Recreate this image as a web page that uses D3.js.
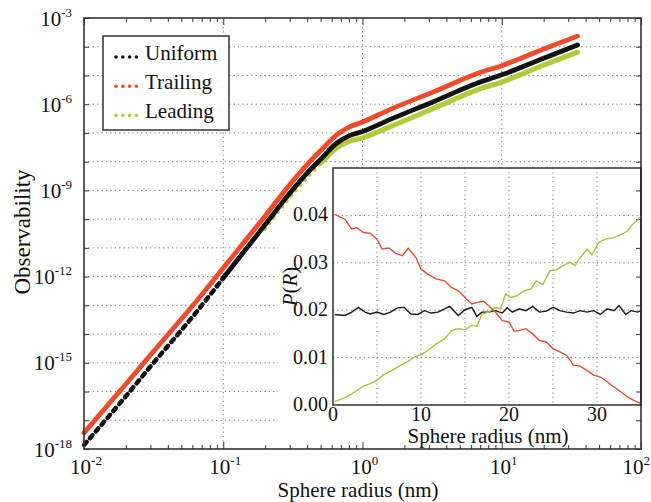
<!DOCTYPE html>
<html><head><meta charset="utf-8">
<script src="https://cdn.jsdelivr.net/npm/d3@7"></script>
<style>body{margin:0;background:#fff}svg{display:block}</style>
</head><body><svg id="c" width="651" height="502"></svg>
<script>
// ---------- main chart data (Sphere radius nm, Observability) ----------
const radiusTrailing = [0.01,0.02,0.03,0.065,0.1,0.2,0.3,0.4,0.5,0.65,0.8,1,1.6,3.2,7,10,20,35];
const obsTrailing   = [3.63e-18,1.82e-16,1.86e-15,1.51e-13,2.00e-12,1.29e-10,1.58e-9,7.94e-9,2.40e-8,8.32e-8,1.58e-7,2.40e-7,6.76e-7,2.63e-6,1.26e-5,2.19e-5,8.32e-5,2.34e-4];
const radiusUniform = [0.01,0.02,0.03,0.065,0.1,0.2,0.3,0.4,0.5,0.65,0.8,1,1.6,3.2,7,10,20,35];
const obsUniform    = [1.38e-18,6.92e-17,7.41e-16,6.31e-14,8.91e-13,6.46e-11,7.94e-10,3.98e-9,1.20e-8,4.37e-8,7.94e-8,1.12e-7,3.02e-7,1.20e-6,5.89e-6,1.05e-5,3.98e-5,1.15e-4];
const radiusLeading = [0.2,0.3,0.4,0.5,0.65,0.8,1,1.6,3.2,7,10,20,35];
const obsLeading    = [4.57e-11,5.62e-10,2.82e-9,8.51e-9,2.95e-8,5.01e-8,6.76e-8,1.70e-7,6.92e-7,3.39e-6,5.89e-6,2.29e-5,6.46e-5];
const xTickExps = [-2,-1,0,1,2];
const yTickExps = [-18,-15,-12,-9,-6,-3];
const legendLabels = ["Uniform","Trailing","Leading"];

// ---------- inset data (Sphere radius nm, P(R)) ----------
const insetRTrailing = [0.19,1.35,2.12,2.69,3.46,4.23,5.0,5.58,6.35,7.12,7.88,8.54,9.42,10.0,10.77,11.73,12.69,13.46,14.23,15.0,15.77,16.54,17.12,17.88,18.46,19.23,20.0,20.58,21.15,21.92,22.69,23.46,24.23,25.0,25.77,26.54,27.31,28.08,28.85,29.62,30.38,31.15,31.92,32.69,33.46,34.23,35.0];
const insetPTrailing = [0.0402,0.0392,0.0371,0.0374,0.0364,0.0362,0.0350,0.0329,0.0331,0.0320,0.0315,0.0331,0.0311,0.0287,0.0276,0.0266,0.0262,0.0248,0.0241,0.0227,0.0213,0.0217,0.0219,0.0206,0.0196,0.0178,0.0175,0.0156,0.0157,0.0161,0.0150,0.0136,0.0133,0.0119,0.0112,0.0105,0.0084,0.0082,0.0073,0.0063,0.0059,0.0049,0.0038,0.0028,0.0017,0.0009,0.0003];
const insetRLeading = [0.19,1.54,2.5,3.46,4.23,5.0,5.77,6.73,7.69,8.46,9.23,10.0,10.77,11.73,12.69,13.46,14.23,15.0,15.77,16.35,16.92,17.69,18.46,19.04,19.62,20.19,20.96,21.73,22.5,23.08,23.85,24.62,25.38,26.15,26.92,27.5,28.27,28.85,29.42,30.19,30.96,31.92,32.69,33.46,34.04,35.0];
const insetPLeading = [0.0007,0.0017,0.0028,0.0040,0.0045,0.0052,0.0064,0.0073,0.0084,0.0091,0.0101,0.0106,0.0115,0.0129,0.0140,0.0157,0.0161,0.0159,0.0168,0.0166,0.0192,0.0196,0.0206,0.0203,0.0234,0.0227,0.0231,0.0241,0.0245,0.0262,0.0254,0.0283,0.0285,0.0294,0.0301,0.0294,0.0315,0.0329,0.0317,0.0343,0.0350,0.0353,0.0359,0.0367,0.0381,0.0397];
const insetRUniform = [0.19,1.35,2.12,2.88,3.65,4.23,5.0,5.77,6.54,7.31,8.08,8.85,9.62,10.38,11.15,11.92,12.69,13.27,14.23,15.0,15.77,16.35,16.92,17.69,18.46,19.23,19.81,20.38,21.15,21.92,22.69,23.46,24.23,25.0,25.77,26.54,27.31,28.08,28.85,29.62,30.38,31.15,31.92,32.5,33.27,33.85,34.62,35.0];
const insetPUniform = [0.0191,0.0189,0.0196,0.0206,0.0196,0.0192,0.0196,0.0191,0.0196,0.0205,0.0206,0.0192,0.0191,0.0199,0.0194,0.0196,0.0203,0.0208,0.0189,0.0201,0.0206,0.0187,0.0196,0.0196,0.0199,0.0194,0.0205,0.0196,0.0203,0.0199,0.0208,0.0196,0.0198,0.0206,0.0199,0.0196,0.0194,0.0199,0.0196,0.0199,0.0191,0.0203,0.0199,0.0210,0.0191,0.0199,0.0196,0.0199];
const insetXTicks = [0,10,20,30];
const insetYTicks = [0,0.01,0.02,0.03,0.04];

const colors = {Uniform:"#111111", Trailing:"#f04a2a", Leading:"#b3cb38"};
const insetColors = {Uniform:"#1a1a1a", Trailing:"#ea4a30", Leading:"#a8c43c"};
const FONT = '"Liberation Serif"';

const svg = d3.select("#c");
const X0=84, X1=641, Y0=18, Y1=449;
const x = d3.scaleLog().domain([1e-2,1e2]).range([X0,X1]);
const y = d3.scaleLog().domain([1e-18,1e-3]).range([Y1,Y0]);
const txt = (g)=>g.append("text").style("font-family",FONT).attr("fill","#111");

// grid
const gridG = svg.append("g");
d3.range(-17,-3).forEach(e=>{
  gridG.append("line").attr("x1",X0).attr("x2",X1).attr("y1",y(Math.pow(10,e))).attr("y2",y(Math.pow(10,e)))
    .attr("stroke","#777").attr("stroke-width",1).attr("stroke-dasharray","1.2,3.2");
});
[-1,0,1].forEach(e=>{
  gridG.append("line").attr("y1",Y0).attr("y2",Y1).attr("x1",x(Math.pow(10,e))).attr("x2",x(Math.pow(10,e)))
    .attr("stroke","#777").attr("stroke-width",1).attr("stroke-dasharray","1.2,3.2");
});

// inset background (covers the grid, drawn below the main curves)
const IX0=333, IX1=641, IY0=168, IY1=405;
svg.append("rect").attr("x",278).attr("y",165).attr("width",IX1-278).attr("height",282).attr("fill","#fff");

// curves
const line = d3.line().x(d=>x(d[0])).y(d=>y(d[1])).curve(d3.curveMonotoneX);
const zip = (a,b)=>a.map((v,i)=>[v,b[i]]);
const leadPts = zip(radiusLeading,obsLeading);
const unifPts = zip(radiusUniform,obsUniform);
const trailPts = zip(radiusTrailing,obsTrailing);
const curveG = svg.append("g");
curveG.append("path").attr("d",line(leadPts.filter(d=>d[0]<=0.65))).attr("fill","none")
  .attr("stroke",colors.Leading).attr("stroke-width",4).attr("stroke-linecap","round").attr("stroke-dasharray","0,7");
curveG.append("path").attr("d",line(leadPts.filter(d=>d[0]>=0.5))).attr("fill","none")
  .attr("stroke",colors.Leading).attr("stroke-width",5).attr("stroke-linecap","round");
curveG.append("path").attr("d",line(unifPts.filter(d=>d[0]<=0.1))).attr("fill","none")
  .attr("stroke",colors.Uniform).attr("stroke-width",4.5).attr("stroke-linecap","round").attr("stroke-dasharray","4,5");
curveG.append("path").attr("d",line(unifPts.filter(d=>d[0]>=0.1))).attr("fill","none")
  .attr("stroke",colors.Uniform).attr("stroke-width",4.8).attr("stroke-linecap","round");
curveG.append("path").attr("d",line(trailPts)).attr("fill","none")
  .attr("stroke",colors.Trailing).attr("stroke-width",4.8).attr("stroke-linecap","round");

// axes frame + ticks
const axG = svg.append("g");
const minorX = [];
for(let e=-2;e<2;e++) for(let k=2;k<=9;k++) minorX.push(k*Math.pow(10,e));
const majX = xTickExps.map(e=>Math.pow(10,e));
axG.append("g").attr("transform",`translate(0,${Y1})`).call(d3.axisBottom(x).tickValues(majX).tickSize(-7).tickFormat(""));
axG.append("g").attr("transform",`translate(0,${Y1})`).call(d3.axisBottom(x).tickValues(minorX).tickSize(-4).tickFormat(""));
axG.append("g").attr("transform",`translate(0,${Y0})`).call(d3.axisTop(x).tickValues(majX).tickSize(-7).tickFormat(""));
axG.append("g").attr("transform",`translate(0,${Y0})`).call(d3.axisTop(x).tickValues(minorX).tickSize(-4).tickFormat(""));
const majY = d3.range(-18,-2).map(e=>Math.pow(10,e));
axG.append("g").attr("transform",`translate(${X0},0)`).call(d3.axisLeft(y).tickValues(majY).tickSize(-5).tickFormat(""));
axG.append("g").attr("transform",`translate(${X1},0)`).call(d3.axisRight(y).tickValues(majY).tickSize(-5).tickFormat(""));
axG.selectAll(".domain").remove();
axG.selectAll(".tick line").attr("stroke","#333").attr("stroke-width",1);
axG.append("rect").attr("x",X0).attr("y",Y0).attr("width",X1-X0).attr("height",Y1-Y0)
  .attr("fill","none").attr("stroke","#333").attr("stroke-width",1.6);

// tick labels
xTickExps.forEach((e,i)=>{
  const last = i===xTickExps.length-1;
  const t = txt(svg).attr("x",last?650:x(Math.pow(10,e))+2).attr("y",474)
    .attr("text-anchor",last?"end":"middle").attr("font-size",21);
  t.append("tspan").text("10");
  t.append("tspan").attr("dy",-9).attr("font-size",13).text(e<0?"-"+(-e):String(e));
});
yTickExps.forEach(e=>{
  const t = txt(svg).attr("x",72).attr("y",y(Math.pow(10,e))+7.5).attr("text-anchor","end").attr("font-size",21);
  t.append("tspan").text("10");
  t.append("tspan").attr("dy",-9).attr("font-size",13).text("-"+(-e));
});
txt(svg).attr("x",358).attr("y",497).attr("text-anchor","middle").attr("font-size",21).text("Sphere radius (nm)");
txt(svg).attr("transform","translate(30,232) rotate(-90)").attr("text-anchor","middle").attr("font-size",23).text("Observability");

// legend
const lg = svg.append("g");
lg.append("rect").attr("x",103).attr("y",36).attr("width",126).attr("height",94).attr("fill","#fff").attr("stroke","#333").attr("stroke-width",1.5);
legendLabels.forEach((name,i)=>{
  const base = 60 + i*29.2;
  for(let k=0;k<4;k++) lg.append("circle").attr("cx",116+k*6.8).attr("cy",base-3).attr("r",1.8).attr("fill",colors[name]);
  txt(lg).attr("x",145).attr("y",base).attr("font-size",21).text(name);
});

// ---------- inset ----------
const ix = d3.scaleLinear().domain([0,35]).range([IX0,IX1]);
const iy = d3.scaleLinear().domain([0,0.05]).range([IY1,IY0]);
const ig = svg.append("g");
d3.range(5,35,5).forEach(v=>{
  ig.append("line").attr("x1",ix(v)).attr("x2",ix(v)).attr("y1",IY0).attr("y2",IY1)
    .attr("stroke","#777").attr("stroke-dasharray","1.2,3.2");
});
[0.01,0.02,0.03,0.04].forEach(v=>{
  ig.append("line").attr("x1",IX0).attr("x2",IX1).attr("y1",iy(v)).attr("y2",iy(v))
    .attr("stroke","#777").attr("stroke-dasharray","1.2,3.2");
});
const iline = d3.line().x(d=>ix(d[0])).y(d=>iy(d[1]));
ig.append("path").attr("d",iline(zip(insetRUniform,insetPUniform))).attr("fill","none").attr("stroke",insetColors.Uniform).attr("stroke-width",1.4);
ig.append("path").attr("d",iline(zip(insetRLeading,insetPLeading))).attr("fill","none").attr("stroke",insetColors.Leading).attr("stroke-width",1.4);
ig.append("path").attr("d",iline(zip(insetRTrailing,insetPTrailing))).attr("fill","none").attr("stroke",insetColors.Trailing).attr("stroke-width",1.4);
ig.append("rect").attr("x",IX0).attr("y",IY0).attr("width",IX1-IX0).attr("height",IY1-IY0)
  .attr("fill","none").attr("stroke","#222").attr("stroke-width",1.4);
insetXTicks.forEach(v=>{
  txt(ig).attr("x",ix(v)).attr("y",421).attr("text-anchor","middle").attr("font-size",20).text(v);
});
insetYTicks.forEach(v=>{
  txt(ig).attr("x",328).attr("y",iy(v)+6).attr("text-anchor","end").attr("font-size",20).text(v.toFixed(2));
});
txt(ig).attr("x",488).attr("y",443).attr("text-anchor","middle").attr("font-size",21).text("Sphere radius (nm)");
const pl = txt(ig).attr("transform",`translate(297,${(IY0+IY1)/2}) rotate(-90)`).attr("text-anchor","middle").attr("font-size",21);
pl.append("tspan").attr("font-style","italic").text("P");
pl.append("tspan").text("(");
pl.append("tspan").attr("font-style","italic").text("R");
pl.append("tspan").text(")");
</script></body></html>
